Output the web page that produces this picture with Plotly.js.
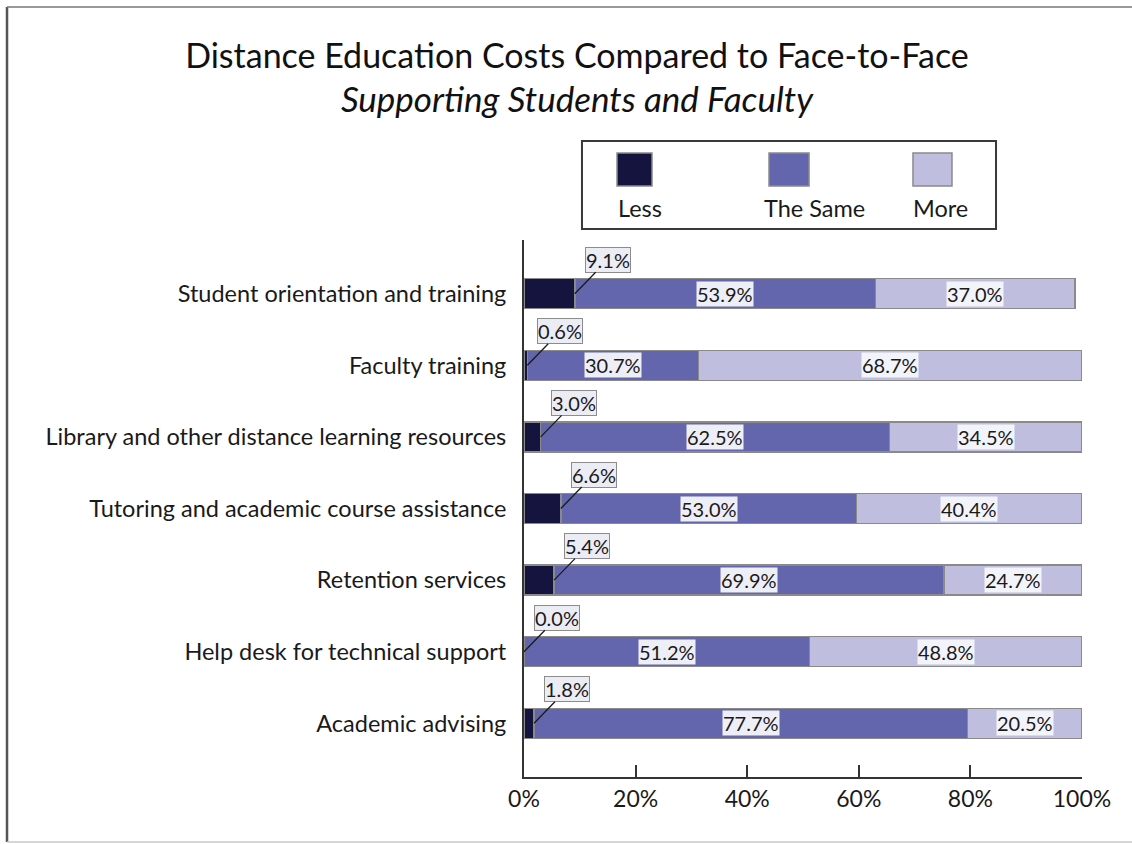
<!DOCTYPE html>
<html>
<head>
<meta charset="utf-8">
<script src="https://cdn.plot.ly/plotly-3.0.1.min.js"></script>
<style>
  html, body { margin: 0; padding: 0; background: #ffffff; }
  #chart { width: 1132px; height: 844px; }
</style>
</head>
<body>
<div id="chart"></div>
<script>
// ---- data ----
const categories = [
  'Student orientation and training',
  'Faculty training',
  'Library and other distance learning resources',
  'Tutoring and academic course assistance',
  'Retention services',
  'Help desk for technical support',
  'Academic advising'
];
const lessValues = [9.1, 0.6, 3.0, 6.6, 5.4, 0.0, 1.8];
const sameValues = [53.9, 30.7, 62.5, 53.0, 69.9, 51.2, 77.7];
// bar lengths as drawn (the first bar stops short of 100%)
const moreValues = [35.7, 68.7, 34.5, 40.4, 24.7, 48.8, 20.5];
// values as printed on the labels
const morePrinted = [37.0, 68.7, 34.5, 40.4, 24.7, 48.8, 20.5];
const seriesNames = ['Less', 'The Same', 'More'];
const seriesColors = ['#15143f', '#6466ad', '#bfbedf'];
const xTickVals = [0, 20, 40, 60, 80, 100];
const xTickText = ['0%', '20%', '40%', '60%', '80%', '100%'];

const FONT = 'Lato, "Open Sans", "DejaVu Sans", sans-serif';
const fmt = v => v.toFixed(1) + '%';

const lineStyle = { color: '#8a8a8a', width: 1.5 };
const traces = [
  { name: seriesNames[0], x: lessValues, y: categories, type: 'bar', orientation: 'h',
    marker: { color: seriesColors[0], line: lineStyle }, hoverinfo: 'x+y' },
  { name: seriesNames[1], x: sameValues, y: categories, type: 'bar', orientation: 'h',
    marker: { color: seriesColors[1], line: lineStyle }, hoverinfo: 'x+y' },
  { name: seriesNames[2], x: moreValues, y: categories, type: 'bar', orientation: 'h',
    marker: { color: seriesColors[2], line: lineStyle }, hoverinfo: 'x+y' }
];

const LABEL_SIZE = 20;
const annotations = [];
categories.forEach((c, i) => {
  // "Less" callout above the bar with a leader line
  annotations.push({
    x: lessValues[i], y: c, xref: 'x', yref: 'y',
    text: fmt(lessValues[i]), showarrow: true, arrowhead: 0, arrowwidth: 1.3,
    arrowcolor: '#1a1a1a', ax: 33, ay: -34, standoff: 0,
    bgcolor: '#ececf4', bordercolor: '#8c8c8c', borderwidth: 1, borderpad: 0,
    font: { family: FONT, size: LABEL_SIZE, color: '#1a1a1a' }
  });
  // "The Same" label in the middle of its segment
  annotations.push({
    x: lessValues[i] + sameValues[i] / 2, y: c, xref: 'x', yref: 'y',
    text: fmt(sameValues[i]), showarrow: false,
    bgcolor: 'rgba(246,246,251,0.95)', borderpad: 0,
    font: { family: FONT, size: LABEL_SIZE, color: '#1a1a1a' }
  });
  // "More" label in the middle of its segment
  annotations.push({
    x: lessValues[i] + sameValues[i] + moreValues[i] / 2, y: c, xref: 'x', yref: 'y',
    text: fmt(morePrinted[i]), showarrow: false,
    bgcolor: 'rgba(246,246,251,0.95)', borderpad: 0,
    font: { family: FONT, size: LABEL_SIZE, color: '#1a1a1a' }
  });
});

// custom legend (squares above labels, inside a framed box)
const legendSquares = [[0.1667, 0.2294], [0.4391, 0.5108], [0.6971, 0.7670]];
const legendLabelX = [0.2079, 0.5215, 0.7473];
const shapes = [
  // outer frame
  { type: 'line', xref: 'paper', yref: 'paper', x0: -0.9265, x1: -0.9265, y0: -0.121, y1: 1.4339,
    line: { color: '#555555', width: 2.5 } },
  { type: 'line', xref: 'paper', yref: 'paper', x0: -0.9265, x1: 1.09, y0: 1.4339, y1: 1.4339,
    line: { color: '#777777', width: 1.5 } },
  { type: 'line', xref: 'paper', yref: 'paper', x0: -0.9265, x1: 1.09, y0: -0.121, y1: -0.121,
    line: { color: '#c8c8c8', width: 1.5 } },
  // legend frame
  { type: 'rect', xref: 'paper', yref: 'paper', x0: 0.1039, x1: 0.8459, y0: 1.0205, y1: 1.1844,
    line: { color: '#3a3a3a', width: 2 }, fillcolor: 'rgba(0,0,0,0)' }
];
seriesNames.forEach((n, k) => {
  shapes.push({ type: 'rect', xref: 'paper', yref: 'paper',
    x0: legendSquares[k][0], x1: legendSquares[k][1], y0: 1.1006, y1: 1.162,
    fillcolor: seriesColors[k], line: { color: '#8a8a8a', width: 1.5 } });
  annotations.push({ xref: 'paper', yref: 'paper', x: legendLabelX[k], y: 1.0596,
    text: n, showarrow: false, xanchor: 'center', yanchor: 'middle',
    font: { family: FONT, size: 23.5, color: '#1a1a1a' } });
});

const layout = {
  width: 1132, height: 844,
  margin: { l: 524, r: 50, t: 240, b: 67 },
  paper_bgcolor: '#ffffff', plot_bgcolor: '#ffffff',
  font: { family: FONT, color: '#1a1a1a' },
  title: {
    text: 'Distance Education Costs Compared to Face-to-Face<br><span style="font-size:35px"><i>Supporting Students and Faculty</i></span>',
    font: { family: FONT, size: 34, color: '#111111' },
    x: 0.5097, xanchor: 'center', xref: 'container',
    y: 1 - 68 / 844, yanchor: 'top', yref: 'container'
  },
  barmode: 'stack',
  bargap: 0.58,
  showlegend: false,
  xaxis: {
    range: [0, 100], tickvals: xTickVals, ticktext: xTickText,
    ticks: 'inside', ticklen: 12, tickwidth: 2, tickcolor: '#333333',
    showline: true, linecolor: '#333333', linewidth: 2,
    showgrid: false, zeroline: false,
    tickfont: { family: FONT, size: 23, color: '#1a1a1a' }
  },
  yaxis: {
    type: 'category', categoryorder: 'array', categoryarray: categories,
    range: [6.75, -0.75],
    showline: true, linecolor: '#333333', linewidth: 2,
    ticks: '', showgrid: false, zeroline: false, ticklabelstandoff: 11,
    tickfont: { family: FONT, size: 23.5, color: '#1a1a1a' }
  },
  annotations: annotations,
  shapes: shapes
};

Plotly.newPlot('chart', traces, layout, { displayModeBar: false, staticPlot: true });
</script>
</body>
</html>
